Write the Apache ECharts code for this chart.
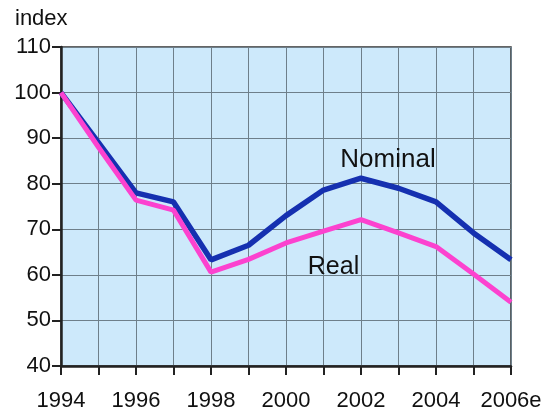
<!DOCTYPE html>
<html>
<head>
<meta charset="utf-8">
<script src="https://cdn.jsdelivr.net/npm/echarts@6/dist/echarts.min.js"></script>
<style>html,body{margin:0;padding:0;background:#fff;}#c{width:546px;height:414px;}</style>
</head>
<body>
<div id="c"></div>
<script>
const years = ['1994','1995','1996','1997','1998','1999','2000','2001','2002','2003','2004','2005','2006e'];
const nominal = [100, 89, 78, 76, 63.3, 66.5, 73, 78.6, 81.2, 79, 76, 69.2, 63.3];
const real = [100, 88, 76.4, 74.2, 60.6, 63.4, 67, 69.6, 72.1, 69.2, 66.2, 60.2, 54];
const yTicks = {min: 40, max: 110, interval: 10};
const seriesNames = ['Nominal', 'Real'];
const yName = 'index';

const font = 'Liberation Sans, Arial, sans-serif';
const chart = echarts.init(document.getElementById('c'));

const nominalData = nominal.map((v, i) => i === 8 ? {
  value: v,
  label: {show: true, formatter: seriesNames[0], position: 'top', offset: [27, 0], fontSize: 26, color: '#111', fontFamily: font}
} : v);
const realData = real.map((v, i) => i === 7 ? {
  value: v,
  label: {show: true, formatter: seriesNames[1], position: 'bottom', offset: [10, 19], fontSize: 25, color: '#111', fontFamily: font}
} : v);

chart.setOption({
  animation: false,
  backgroundColor: '#fff',
  grid: {left: 61, right: 35, top: 47, bottom: 48, show: true, backgroundColor: '#cde9fb', borderColor: '#333', borderWidth: 1.5},
  graphic: [{type: 'text', left: 15, top: 8, style: {text: yName, fontSize: 22, fill: '#111', fontFamily: font}}],
  xAxis: {
    type: 'category', data: years, boundaryGap: false,
    axisLine: {lineStyle: {color: '#222', width: 2.5}},
    axisTick: {show: true, interval: 0, length: 9, lineStyle: {color: '#222', width: 2}},
    splitLine: {show: true, interval: 0, lineStyle: {color: '#6e7f8a', width: 1}},
    axisLabel: {interval: 1, fontSize: 22, color: '#111', margin: 24, fontFamily: font}
  },
  yAxis: {
    type: 'value', min: yTicks.min, max: yTicks.max, interval: yTicks.interval,
    axisLine: {show: true, lineStyle: {color: '#222', width: 2.5}},
    axisTick: {show: true, length: 9, lineStyle: {color: '#222', width: 2}},
    splitLine: {show: true, lineStyle: {color: '#6e7f8a', width: 1}},
    axisLabel: {fontSize: 22, color: '#111', margin: 10, fontFamily: font}
  },
  series: [
    {name: seriesNames[0], type: 'line', data: nominalData, symbol: 'circle', symbolSize: 0, showSymbol: true, lineStyle: {color: '#1530b0', width: 5.5}, itemStyle: {color: '#1530b0'}, z: 3},
    {name: seriesNames[1], type: 'line', data: realData, symbol: 'circle', symbolSize: 0, showSymbol: true, lineStyle: {color: '#fc42cf', width: 5}, itemStyle: {color: '#fc42cf'}, z: 4}
  ]
});
</script>
</body>
</html>
